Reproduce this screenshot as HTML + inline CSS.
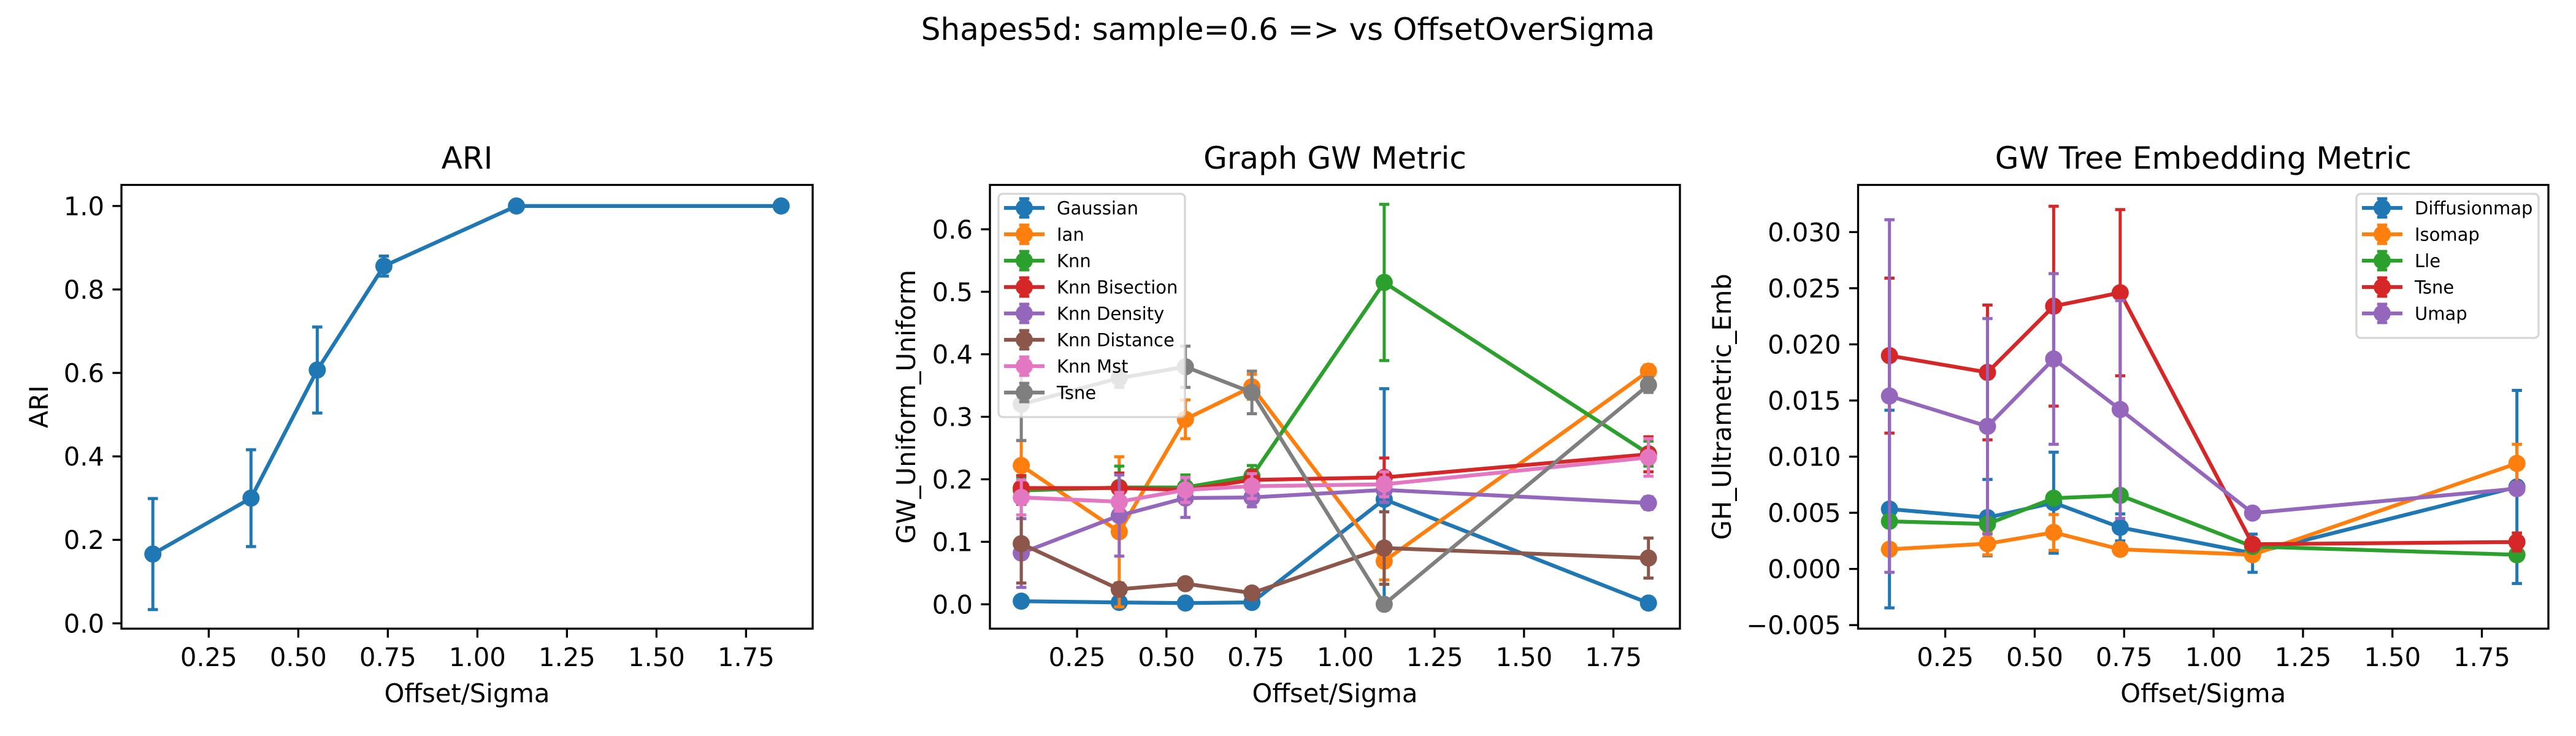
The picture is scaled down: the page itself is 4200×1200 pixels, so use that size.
<!DOCTYPE html>
<html><head><meta charset="utf-8"><style>
html,body{margin:0;padding:0;background:#fff}
svg{display:block}
text{font-family:"DejaVu Sans","Liberation Sans",sans-serif;fill:#000}
</style></head><body>
<svg id="fig" width="4200" height="1200" viewBox="0 0 4200 1200" xmlns="http://www.w3.org/2000/svg">
<rect width="4200" height="1200" fill="#fff"/>
<text x="2100" y="65" font-size="50" text-anchor="middle">Shapes5d: sample=0.6 =&gt; vs OffsetOverSigma</text>
</svg>
<script>
const xVals = [0.094, 0.368, 0.553, 0.739, 1.109, 1.848];
const xTicks = [0.25, 0.5, 0.75, 1.0, 1.25, 1.5, 1.75];
const xTickLabels = ["0.25","0.50","0.75","1.00","1.25","1.50","1.75"];

const ariNames = ["ARI"];
const ariMean = [[0.166, 0.300, 0.607, 0.856, 1.0, 1.0]];
const ariErr = [[0.133, 0.116, 0.103, 0.024, 0, 0]];
const ariTicks = [0, 0.2, 0.4, 0.6, 0.8, 1.0];
const ariTickLabels = ["0.0","0.2","0.4","0.6","0.8","1.0"];

const gwNames = ["Gaussian","Ian","Knn","Knn Bisection","Knn Density","Knn Distance","Knn Mst","Tsne"];
const gwGaussian = [0.005, 0.003, 0.002, 0.003, 0.168, 0.002];
const gwGaussianErr = [0.003, 0.002, 0.002, 0.002, 0.177, 0.002];
const gwIan = [0.222, 0.116, 0.296, 0.348, 0.069, 0.373];
const gwIanErr = [0.04, 0.12, 0.031, 0.02, 0.03, 0.01];
const gwKnn = [0.182, 0.187, 0.187, 0.205, 0.515, 0.241];
const gwKnnErr = [0.02, 0.034, 0.02, 0.017, 0.125, 0.02];
const gwKnnBisection = [0.186, 0.186, 0.183, 0.199, 0.203, 0.240];
const gwKnnBisectionErr = [0.02, 0.024, 0.02, 0.015, 0.031, 0.028];
const gwKnnDensity = [0.082, 0.142, 0.170, 0.171, 0.183, 0.162];
const gwKnnDensityErr = [0.055, 0.065, 0.031, 0.015, 0.02, 0.01];
const gwKnnDistance = [0.097, 0.024, 0.033, 0.018, 0.090, 0.074];
const gwKnnDistanceErr = [0.063, 0.01, 0.008, 0.008, 0.058, 0.032];
const gwKnnMst = [0.171, 0.164, 0.183, 0.189, 0.192, 0.235];
const gwKnnMstErr = [0.028, 0.015, 0.02, 0.02, 0.02, 0.03];
const gwTsne = [0.320, 0.362, 0.380, 0.339, 0.0, 0.351];
const gwTsneErr = [0.058, 0.015, 0.033, 0.034, 0.002, 0.012];
const gwMeans = [gwGaussian, gwIan, gwKnn, gwKnnBisection, gwKnnDensity, gwKnnDistance, gwKnnMst, gwTsne];
const gwErrs = [gwGaussianErr, gwIanErr, gwKnnErr, gwKnnBisectionErr, gwKnnDensityErr, gwKnnDistanceErr, gwKnnMstErr, gwTsneErr];
const gwTicks = [0, 0.1, 0.2, 0.3, 0.4, 0.5, 0.6];
const gwTickLabels = ["0.0","0.1","0.2","0.3","0.4","0.5","0.6"];

const ghNames = ["Diffusionmap","Isomap","Lle","Tsne","Umap"];
const ghDiffusionmap = [0.00533, 0.00457, 0.0059, 0.0037, 0.0014, 0.0073];
const ghDiffusionmapErr = [0.0088, 0.0034, 0.0045, 0.0012, 0.0017, 0.0086];
const ghIsomap = [0.00175, 0.00225, 0.00325, 0.00175, 0.00126, 0.0094];
const ghIsomapErr = [0.0004, 0.001, 0.0016, 0.0004, 0.0004, 0.0017];
const ghLle = [0.00424, 0.0040, 0.0063, 0.00655, 0.0020, 0.00126];
const ghLleErr = [0.0003, 0.0003, 0.0004, 0.0003, 0.0004, 0.0003];
const ghTsne = [0.0190, 0.0175, 0.0234, 0.0246, 0.0022, 0.0024];
const ghTsneErr = [0.0069, 0.006, 0.0089, 0.0074, 0.0004, 0.0008];
const ghUmap = [0.0154, 0.0127, 0.0187, 0.0142, 0.00497, 0.00715];
const ghUmapErr = [0.0157, 0.0096, 0.0076, 0.0097, 0.0003, 0.0003];
const ghMeans = [ghDiffusionmap, ghIsomap, ghLle, ghTsne, ghUmap];
const ghErrs = [ghDiffusionmapErr, ghIsomapErr, ghLleErr, ghTsneErr, ghUmapErr];
const ghTicks = [-0.005, 0, 0.005, 0.010, 0.015, 0.020, 0.025, 0.030];
const ghTickLabels = ["\u22120.005","0.000","0.005","0.010","0.015","0.020","0.025","0.030"];

const colors = ["#1f77b4","#ff7f0e","#2ca02c","#d62728","#9467bd","#8c564b","#e377c2","#7f7f7f"];
const NS = "http://www.w3.org/2000/svg";
const svg = document.getElementById("fig");
const MR = 14;

function mk(tag, attrs, parent) {
  const e = document.createElementNS(NS, tag);
  for (const k in attrs) e.setAttribute(k, attrs[k]);
  (parent || svg).appendChild(e);
  return e;
}

function drawPanel(cfg) {
  const g = mk("g", {});
  
  
  const L = cfg.left, R = cfg.right, T = 301.5, B = 1025;
  const xmin = 0.0063, xmax = 1.936;
  const sx = v => L + (v - xmin) / (xmax - xmin) * (R - L);
  const sy = v => B - (v - cfg.ymin) / (cfg.ymax - cfg.ymin) * (B - T);
  const clipId = cfg.id + "-clip";
  const defs = mk("defs", {}, g);
  const cp = mk("clipPath", {id: clipId}, defs);
  mk("rect", {x: L, y: T, width: R - L, height: B - T}, cp);
  const plot = mk("g", {"clip-path": "url(#" + clipId + ")"}, g);
  cfg.means.forEach((m, si) => {
    const c = colors[si];
    const sg = mk("g", {}, plot);
    
    
    const pts = m.map((v, i) => sx(xVals[i]).toFixed(1) + "," + sy(v).toFixed(1)).join(" ");
    mk("polyline", {points: pts, fill: "none", stroke: c, "stroke-width": 6.25, "stroke-linejoin": "round"}, sg);
    m.forEach((v, i) => {
      const e = cfg.errs[si][i];
      const x = sx(xVals[i]);
      if (e > 0) {
        const y1 = sy(v - e), y2 = sy(v + e);
        mk("line", {x1: x, x2: x, y1: y1, y2: y2, stroke: c, "stroke-width": 5}, sg);
        mk("line", {x1: x - 8.3, x2: x + 8.3, y1: y1, y2: y1, stroke: c, "stroke-width": 5}, sg);
        mk("line", {x1: x - 8.3, x2: x + 8.3, y1: y2, y2: y2, stroke: c, "stroke-width": 5}, sg);
      }
      const dot = mk("circle", {cx: x, cy: sy(v), r: MR, fill: c}, sg);
      
      
    });
  });
  const frame = mk("rect", {x: L, y: T, width: R - L, height: B - T, fill: "none", stroke: "#000", "stroke-width": 3.3}, g);
  
  
  xTicks.forEach((t, i) => {
    const x = sx(t);
    mk("line", {x1: x, x2: x, y1: B, y2: B + 14.6, stroke: "#000", "stroke-width": 3.3}, g);
    const tl = mk("text", {x: x, y: B + 61, "font-size": 41.7, "text-anchor": "middle"}, g);
    tl.textContent = xTickLabels[i];
    
    
  });
  cfg.ticks.forEach((t, i) => {
    const y = sy(t);
    mk("line", {x1: L - 14.6, x2: L, y1: y, y2: y, stroke: "#000", "stroke-width": 3.3}, g);
    const tl = mk("text", {x: L - 28, y: y + 15, "font-size": 41.7, "text-anchor": "end"}, g);
    tl.textContent = cfg.tickLabels[i];
    
    
  });
  const title = mk("text", {x: (L + R) / 2, y: 275, "font-size": 50, "text-anchor": "middle"}, g);
  title.textContent = cfg.title;
  
  
  const xl = mk("text", {x: (L + R) / 2, y: 1145, "font-size": 41.7, "text-anchor": "middle"}, g);
  xl.textContent = "Offset/Sigma";
  
  
  const yc = (T + B) / 2;
  const yl = mk("text", {x: cfg.ylx, y: yc, "font-size": 41.7, "text-anchor": "middle", transform: "rotate(-90 " + cfg.ylx + " " + yc + ")"}, g);
  yl.textContent = cfg.ylabel;
  
  
  if (cfg.legend) {
    const lg = cfg.legend;
    const lgG = mk("g", {}, g);
    
    
    mk("rect", {x: lg.x, y: 316, width: lg.w, height: 30 + 43 * cfg.names.length - 10, rx: 7, fill: "#fff", "fill-opacity": 0.8, stroke: "#cccccc", "stroke-opacity": 0.8, "stroke-width": 3.3}, lgG);
    cfg.names.forEach((n, i) => {
      const y = 339 + 43 * i;
      const c = colors[i];
      const hx = lg.x + 9, cx = hx + 33;
      const eg = mk("g", {}, lgG);
      
      
      mk("line", {x1: hx, x2: hx + 66, y1: y, y2: y, stroke: c, "stroke-width": 6.25}, eg);
      mk("line", {x1: cx, x2: cx, y1: y - 15, y2: y + 15, stroke: c, "stroke-width": 5}, eg);
      mk("line", {x1: cx - 8.3, x2: cx + 8.3, y1: y - 15, y2: y - 15, stroke: c, "stroke-width": 5}, eg);
      mk("line", {x1: cx - 8.3, x2: cx + 8.3, y1: y + 15, y2: y + 15, stroke: c, "stroke-width": 5}, eg);
      mk("circle", {cx: cx, cy: y, r: MR, fill: c}, eg);
      const t = mk("text", {x: hx + 86, y: y + 10.5, "font-size": 29}, eg);
      t.textContent = n;
    });
  }
}

drawPanel({id: "ari", left: 198, right: 1325, ymin: -0.0128, ymax: 1.0505,
  means: ariMean, errs: ariErr, names: ariNames, ticks: ariTicks, tickLabels: ariTickLabels,
  title: "ARI", ylabel: "ARI", ylx: 78});
drawPanel({id: "graph-gw", left: 1614, right: 2739, ymin: -0.039, ymax: 0.671,
  means: gwMeans, errs: gwErrs, names: gwNames, ticks: gwTicks, tickLabels: gwTickLabels,
  title: "Graph GW Metric", ylabel: "GW_Uniform_Uniform", ylx: 1492, legend: {x: 1628, w: 304}});
drawPanel({id: "gw-tree", left: 3029.5, right: 4155, ymin: -0.00532, ymax: 0.0342,
  means: ghMeans, errs: ghErrs, names: ghNames, ticks: ghTicks, tickLabels: ghTickLabels,
  title: "GW Tree Embedding Metric", ylabel: "GH_Ultrametric_Emb", ylx: 2822, legend: {x: 3842, w: 297}});
</script>
</body></html>
